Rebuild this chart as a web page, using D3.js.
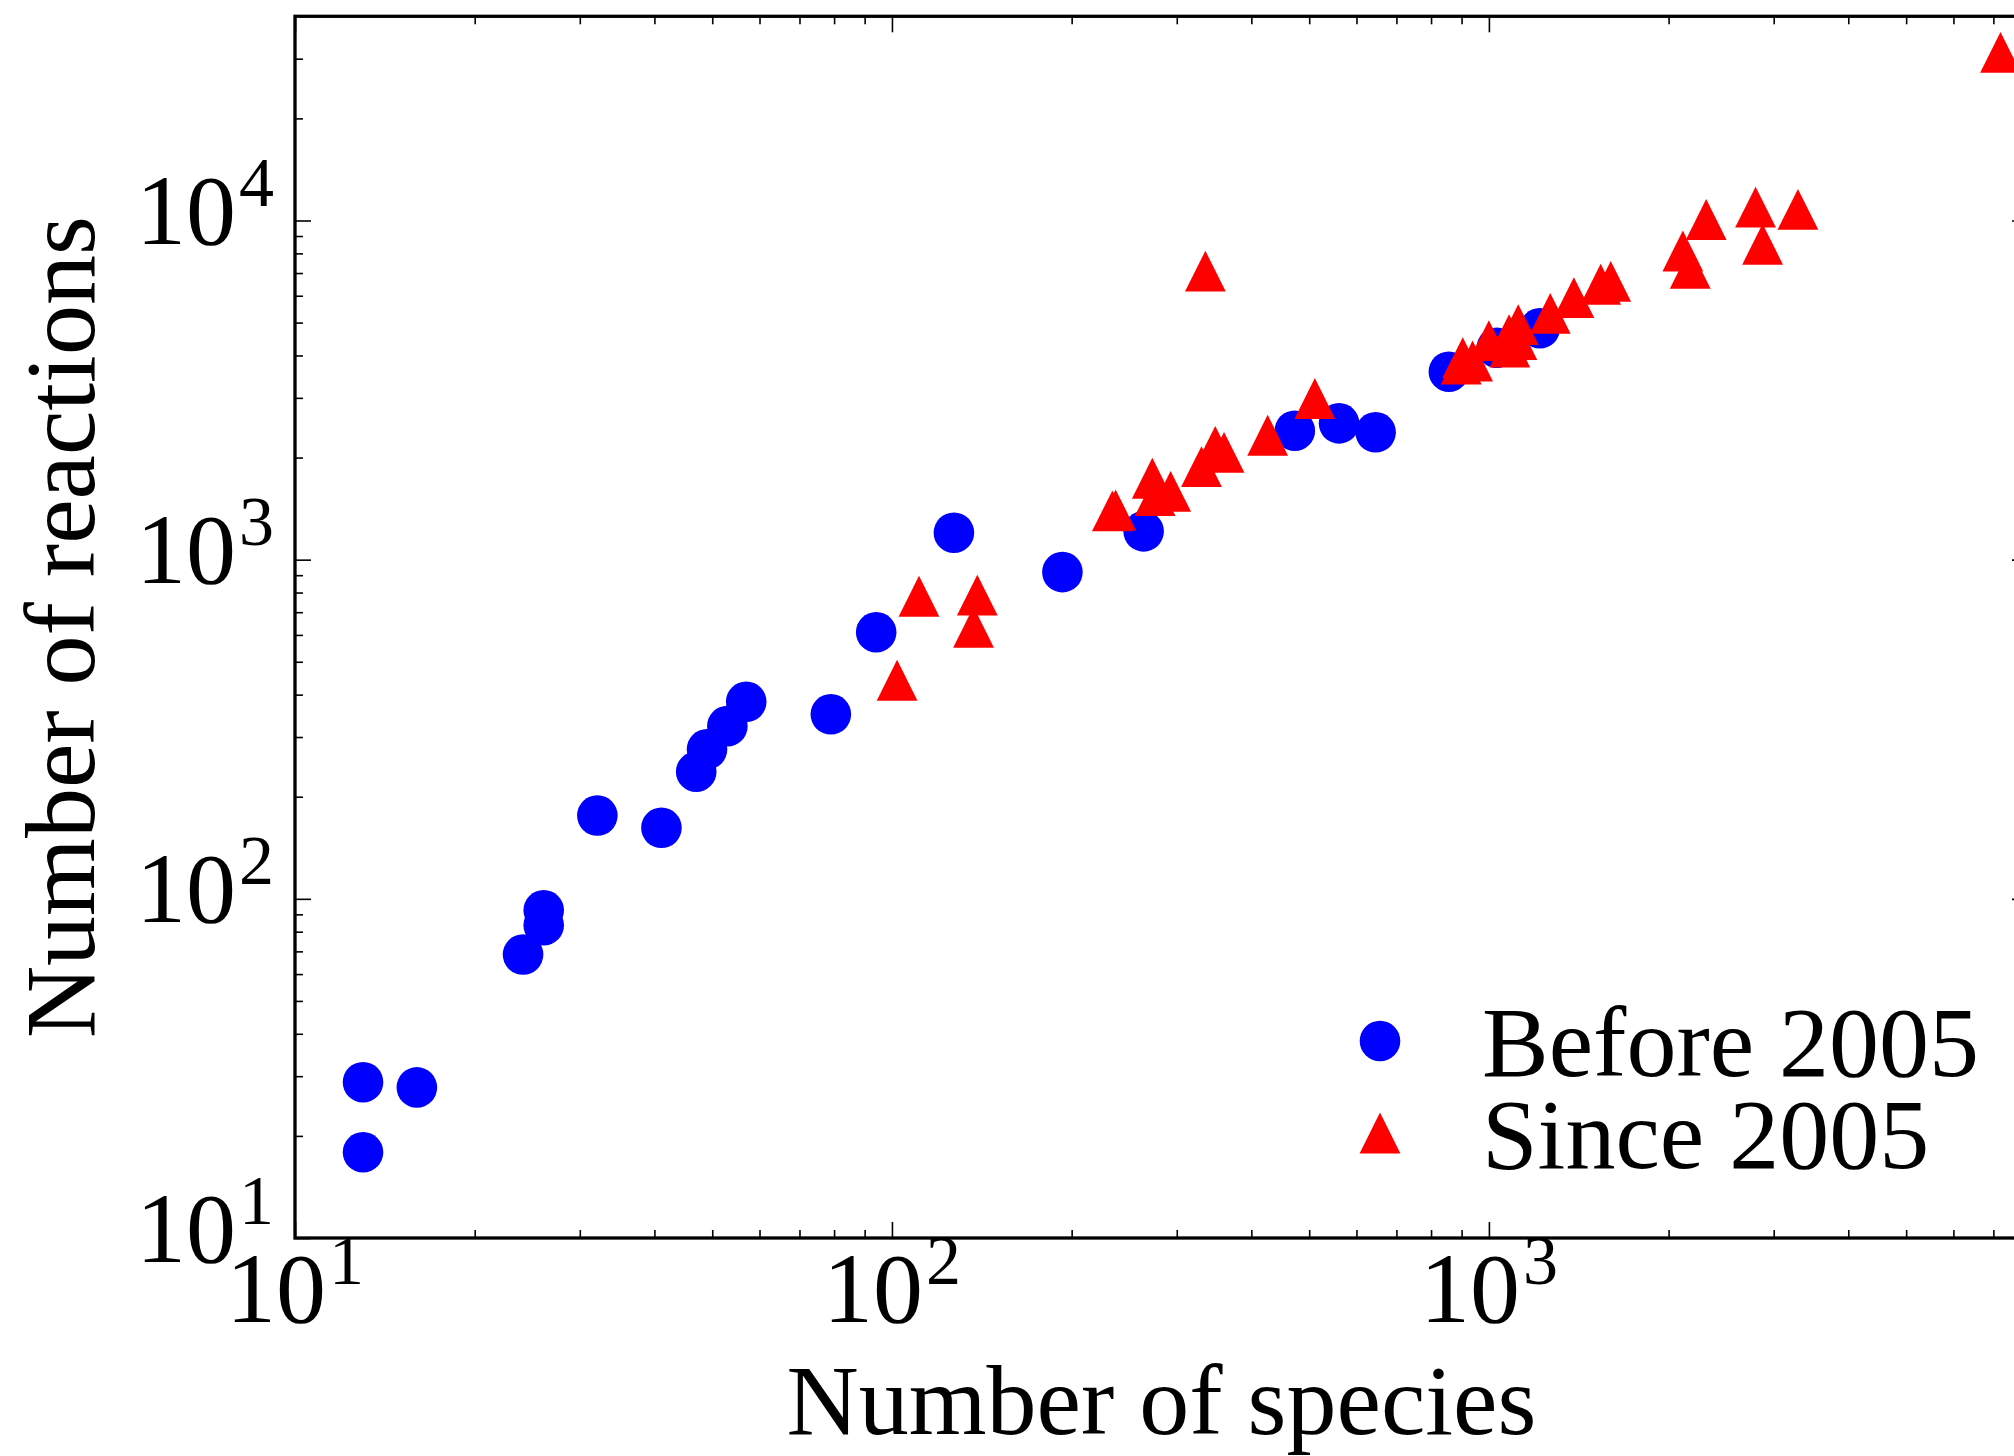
<!DOCTYPE html>
<html>
<head>
<meta charset="utf-8">
<script src="https://cdn.jsdelivr.net/npm/d3@7"></script>
<style>
  html, body { margin: 0; padding: 0; background: #ffffff; }
  svg { display: block; }
  text { font-family: "Liberation Serif", "Times New Roman", Times, serif; fill: #000; }
</style>
</head>
<body>
<svg id="chart" width="2014" height="1456"></svg>
<script>
// ---------------- data ----------------
const seriesNames = ["Before 2005", "Since 2005"];

const beforeSpecies   = [13.0, 13.0, 16.0, 24.1, 26.1, 26.1, 32.1, 41.1, 47.0, 49.0, 53.0, 57.0, 79.0, 94.1, 127, 193, 264, 473, 561, 646, 857, 1031, 1217];
const beforeReactions = [28.8, 17.9, 27.8, 68.5, 83.6, 92.5, 176, 162, 237, 276, 323, 381, 350, 611, 1201, 919, 1212, 2400, 2523, 2374, 3583, 4217, 4811];

const sinceSpecies   = [102, 111, 139, 137, 234, 237, 273, 276, 293, 335, 330, 348, 360, 426, 511, 904, 939, 899, 1000, 1081, 1120, 1084, 1114, 1267, 1388, 1539, 1600, 2113, 2174, 2312, 2797, 2874, 3294, 7195];
const sinceReactions = [441, 780, 786, 632, 1392, 1401, 1738, 1544, 1590, 7090, 1880, 2159, 2073, 2327, 2987, 3940, 3852, 3775, 4422, 4606, 4930, 4236, 4452, 5325, 5920, 6486, 6619, 8130, 7228, 10067, 10944, 8512, 10790, 31320];

const xTickExponents = [1, 2, 3];
const yTickExponents = [1, 2, 3, 4];
const xLabel = "Number of species";
const yLabel = "Number of reactions";

// ---------------- layout ----------------
const W = 2014, H = 1456;
const L = 295, R = 2028, T = 16.3, B = 1238;
const fontSize = 100, supSize = 70;

const svg = d3.select("#chart");
svg.append("rect").attr("width", W).attr("height", H).attr("fill", "#fff");

const x = d3.scaleLog().domain([10, 8000]).range([L, R]);
const y = d3.scaleLog().domain([10, 40000]).range([B, T]);

// minor ticks
function minorTicks(lo, hi) {
  const out = [];
  for (let e = Math.floor(Math.log10(lo)); e <= Math.ceil(Math.log10(hi)); e++) {
    for (let m = 2; m <= 9; m++) {
      const v = m * Math.pow(10, e);
      if (v > lo && v < hi) out.push(v);
    }
  }
  return out;
}
const xMajor = xTickExponents.map(e => Math.pow(10, e)).concat([1e4]).filter(v => v >= 10 && v <= 8000);
const yMajor = yTickExponents.map(e => Math.pow(10, e));
const xMinor = minorTicks(10, 8000);
const yMinor = minorTicks(10, 40000);

function addAxis(axisFn, scale, major, minor, transform) {
  const gMaj = svg.append("g").attr("transform", transform)
    .call(axisFn(scale).tickValues(major).tickSizeInner(-16).tickSizeOuter(0).tickFormat(""));
  const gMin = svg.append("g").attr("transform", transform)
    .call(axisFn(scale).tickValues(minor).tickSizeInner(-8).tickSizeOuter(0).tickFormat(""));
  [gMaj, gMin].forEach(g => {
    g.select(".domain").remove();
    g.selectAll(".tick line").attr("stroke", "#000").attr("stroke-width", 1.6);
  });
}
addAxis(d3.axisBottom, x, xMajor, xMinor, `translate(0,${B})`);
addAxis(d3.axisTop, x, xMajor, xMinor, `translate(0,${T})`);
addAxis(d3.axisLeft, y, yMajor, yMinor, `translate(${L},0)`);
addAxis(d3.axisRight, y, yMajor, yMinor, `translate(${R},0)`);

// ---------------- points ----------------
const r = 20.3, s = 20.4;
const triPath = `M0,${-s}L${s},${s}L${-s},${s}Z`;

const plot = svg.append("g");
plot.selectAll("circle.before")
  .data(d3.zip(beforeSpecies, beforeReactions))
  .join("circle")
  .attr("class", "before")
  .attr("cx", d => x(d[0]))
  .attr("cy", d => y(d[1]))
  .attr("r", r)
  .attr("fill", "#0000ff");

plot.selectAll("path.since")
  .data(d3.zip(sinceSpecies, sinceReactions))
  .join("path")
  .attr("class", "since")
  .attr("d", triPath)
  .attr("transform", d => `translate(${x(d[0])},${y(d[1])})`)
  .attr("fill", "#ff0000");

// ---------------- spines ----------------
svg.append("rect")
  .attr("x", L).attr("y", T)
  .attr("width", R - L).attr("height", B - T)
  .attr("fill", "none").attr("stroke", "#000").attr("stroke-width", 3.3);

// ---------------- tick labels ----------------
function powerLabel(sel, e) {
  sel.append("tspan").attr("font-size", fontSize).text("10");
  sel.append("tspan").attr("font-size", supSize).attr("dx", 3).attr("dy", -38).text(String(e));
}
xTickExponents.forEach(e => {
  const t = svg.append("text")
    .attr("x", x(Math.pow(10, e))).attr("y", B + 84)
    .attr("text-anchor", "middle");
  powerLabel(t, e);
});
yTickExponents.forEach(e => {
  const t = svg.append("text")
    .attr("x", L - 21).attr("y", y(Math.pow(10, e)) + 23.5)
    .attr("text-anchor", "end");
  powerLabel(t, e);
});

// ---------------- axis titles ----------------
svg.append("text")
  .attr("x", (L + R) / 2).attr("y", 1434)
  .attr("text-anchor", "middle").attr("font-size", fontSize)
  .text(xLabel);
svg.append("text")
  .attr("transform", `translate(94,${(T + B) / 2}) rotate(-90)`)
  .attr("text-anchor", "middle").attr("font-size", fontSize)
  .text(yLabel);

// ---------------- legend ----------------
const legend = svg.append("g");
legend.append("circle").attr("cx", 1380).attr("cy", 1041).attr("r", r).attr("fill", "#0000ff");
legend.append("path").attr("d", triPath).attr("transform", "translate(1380,1133)").attr("fill", "#ff0000");
legend.append("text").attr("x", 1482).attr("y", 1076).attr("font-size", fontSize).text(seriesNames[0]);
legend.append("text").attr("x", 1482).attr("y", 1168).attr("font-size", fontSize).text(seriesNames[1]);
</script>
</body>
</html>
